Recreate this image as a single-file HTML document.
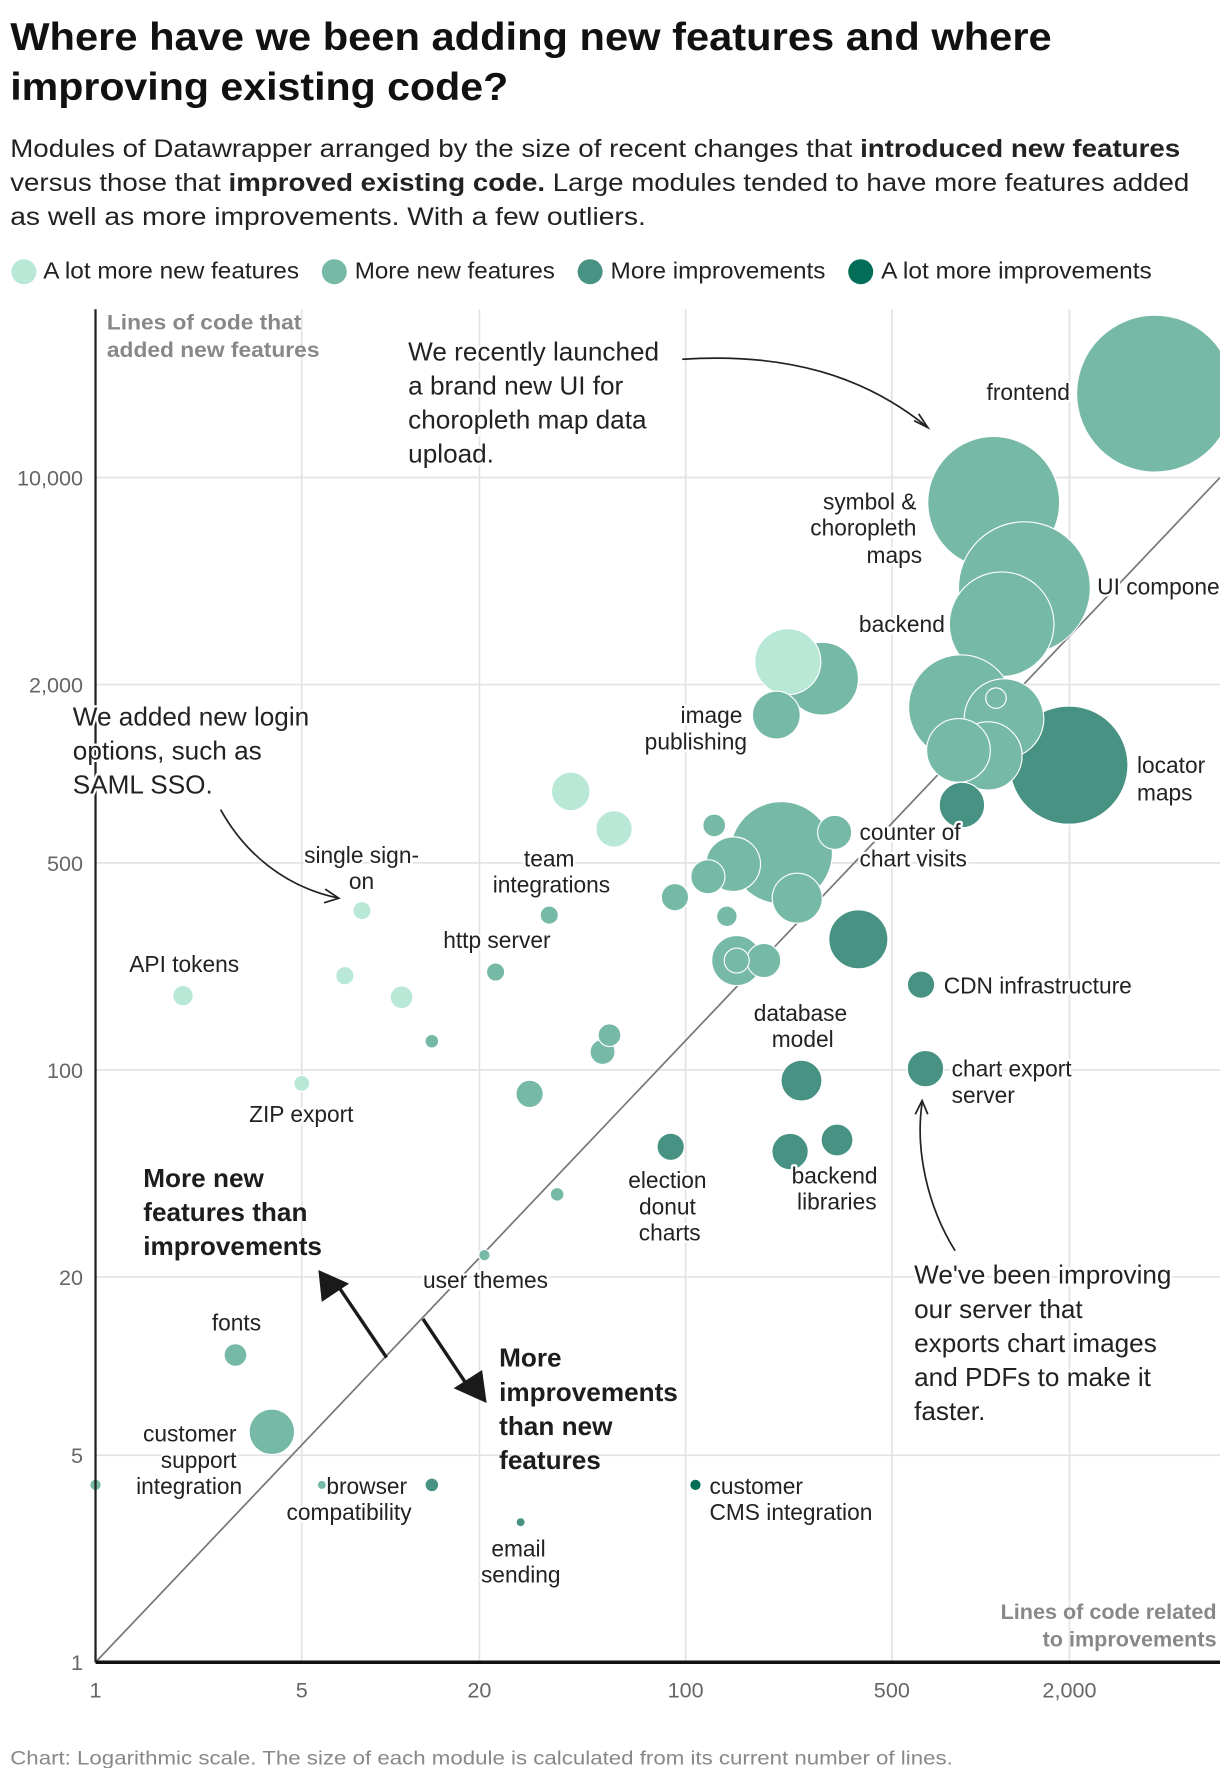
<!DOCTYPE html>
<html><head><meta charset="utf-8">
<style>
html,body{margin:0;padding:0;background:#fff;}
svg{display:block;font-family:"Liberation Sans",Arial,sans-serif;}
.lbl{font-size:20px;fill:#222;paint-order:stroke;stroke:#fff;stroke-width:4px;stroke-linejoin:round;}
.tick{font-size:19px;fill:#666;}
.ann{font-size:23px;fill:#222;paint-order:stroke;stroke:#fff;stroke-width:4px;}
.bold{font-size:23px;font-weight:bold;fill:#1d1d1d;}
</style></head>
<body>
<svg id="chart" width="1220" height="1768" viewBox="0 0 1073 1555" xmlns="http://www.w3.org/2000/svg">
<text x="9" y="44" font-size="34" font-weight="bold" fill="#111" textLength="916" lengthAdjust="spacingAndGlyphs">Where have we been adding new features and where</text>
<text x="9" y="88" font-size="34" font-weight="bold" fill="#111" textLength="438" lengthAdjust="spacingAndGlyphs">improving existing code?</text>
<g font-size="22" fill="#222">
<text x="9" y="138" textLength="1029" lengthAdjust="spacingAndGlyphs">Modules of Datawrapper arranged by the size of recent changes that <tspan font-weight="bold">introduced new features</tspan></text>
<text x="9" y="168" textLength="1037" lengthAdjust="spacingAndGlyphs">versus those that <tspan font-weight="bold">improved existing code.</tspan> Large modules tended to have more features added</text>
<text x="9" y="198" textLength="559" lengthAdjust="spacingAndGlyphs">as well as more improvements. With a few outliers.</text>
</g>
<g font-size="20" fill="#222">
<circle cx="21" cy="239" r="11" fill="#b9e8d7"/><text x="38" y="245" textLength="225" lengthAdjust="spacingAndGlyphs">A lot more new features</text>
<circle cx="294" cy="239" r="11" fill="#76b9a6"/><text x="312" y="245" textLength="176" lengthAdjust="spacingAndGlyphs">More new features</text>
<circle cx="519" cy="239" r="11" fill="#489283"/><text x="537" y="245" textLength="189" lengthAdjust="spacingAndGlyphs">More improvements</text>
<circle cx="757" cy="239" r="11" fill="#036e58"/><text x="775" y="245" textLength="238" lengthAdjust="spacingAndGlyphs">A lot more improvements</text>
</g>
<g id="grid"></g>
<line x1="84" y1="1462" x2="1073" y2="420" stroke="#777" stroke-width="1.5"/>
<g id="bubbles"></g>
<line x1="84" y1="272" x2="84" y2="1462" stroke="#222" stroke-width="2"/>
<line x1="84" y1="1462" x2="1073" y2="1462" stroke="#111" stroke-width="3"/>
<g id="ticks"></g>
<text x="94" y="290" font-size="19" font-weight="bold" fill="#888" textLength="171" lengthAdjust="spacingAndGlyphs">Lines of code that</text>
<text x="94" y="314" font-size="19" font-weight="bold" fill="#888" textLength="187" lengthAdjust="spacingAndGlyphs">added new features</text>
<text x="1070" y="1424" text-anchor="end" font-size="19" font-weight="bold" fill="#888">Lines of code related</text>
<text x="1070" y="1448" text-anchor="end" font-size="19" font-weight="bold" fill="#888">to improvements</text>

<g>
<text class="lbl" x="941" y="352" text-anchor="end">frontend</text>
<text class="lbl" x="806" y="448" text-anchor="end">symbol &amp;</text>
<text class="lbl" x="806" y="471" text-anchor="end">choropleth</text>
<text class="lbl" x="811" y="495" text-anchor="end">maps</text>
<text class="lbl" x="965" y="523">UI components</text>
<text class="lbl" x="831" y="556" text-anchor="end">backend</text>
<text class="lbl" x="1000" y="680">locator</text>
<text class="lbl" x="1000" y="704">maps</text>
<text class="lbl" x="653" y="636" text-anchor="end">image</text>
<text class="lbl" x="657" y="659" text-anchor="end">publishing</text>
<text class="lbl" x="756" y="739">counter of</text>
<text class="lbl" x="756" y="762">chart visits</text>
<text class="lbl" x="318" y="759" text-anchor="middle">single sign-</text>
<text class="lbl" x="318" y="782" text-anchor="middle">on</text>
<text class="lbl" x="483" y="762" text-anchor="middle">team</text>
<text class="lbl" x="485" y="785" text-anchor="middle">integrations</text>
<text class="lbl" x="437" y="834" text-anchor="middle">http server</text>
<text class="lbl" x="162" y="855" text-anchor="middle">API tokens</text>
<text class="lbl" x="830" y="874">CDN infrastructure</text>
<text class="lbl" x="704" y="898" text-anchor="middle">database</text>
<text class="lbl" x="706" y="921" text-anchor="middle">model</text>
<text class="lbl" x="837" y="947">chart export</text>
<text class="lbl" x="837" y="970">server</text>
<text class="lbl" x="265" y="987" text-anchor="middle">ZIP export</text>
<text class="lbl" x="587" y="1045" text-anchor="middle">election</text>
<text class="lbl" x="587" y="1068" text-anchor="middle">donut</text>
<text class="lbl" x="589" y="1091" text-anchor="middle">charts</text>
<text class="lbl" x="734" y="1041" text-anchor="middle">backend</text>
<text class="lbl" x="736" y="1064" text-anchor="middle">libraries</text>
<text class="lbl" x="427" y="1133" text-anchor="middle">user themes</text>
<text class="lbl" x="208" y="1170" text-anchor="middle">fonts</text>
<text class="lbl" x="208" y="1268" text-anchor="end">customer</text>
<text class="lbl" x="208" y="1291" text-anchor="end">support</text>
<text class="lbl" x="213" y="1314" text-anchor="end">integration</text>
<text class="lbl" x="287" y="1314">browser</text>
<text class="lbl" x="307" y="1337" text-anchor="middle">compatibility</text>
<text class="lbl" x="456" y="1369" text-anchor="middle">email</text>
<text class="lbl" x="458" y="1392" text-anchor="middle">sending</text>
<text class="lbl" x="624" y="1314">customer</text>
<text class="lbl" x="624" y="1337">CMS integration</text>
</g>

<g>
<text class="ann" x="359" y="317">We recently launched</text>
<text class="ann" x="359" y="347">a brand new UI for</text>
<text class="ann" x="359" y="377">choropleth map data</text>
<text class="ann" x="359" y="407">upload.</text>
<path d="M600 316 C690 310 760 330 816 376" fill="none" stroke="#222" stroke-width="1.5"/>
<path d="M804 370 L816 376 L808 364" fill="none" stroke="#222" stroke-width="1.5"/>
<text class="ann" x="64" y="638">We added new login</text>
<text class="ann" x="64" y="668">options, such as</text>
<text class="ann" x="64" y="698">SAML SSO.</text>
<path d="M194 712 C215 750 250 780 298 790" fill="none" stroke="#222" stroke-width="1.5"/>
<path d="M286 782 L298 790 L285 794" fill="none" stroke="#222" stroke-width="1.5"/>
<text class="ann" x="804" y="1129">We've been improving</text>
<text class="ann" x="804" y="1159">our server that</text>
<text class="ann" x="804" y="1189">exports chart images</text>
<text class="ann" x="804" y="1219">and PDFs to make it</text>
<text class="ann" x="804" y="1249">faster.</text>
<path d="M840 1100 C815 1060 805 1010 811 970" fill="none" stroke="#222" stroke-width="1.5"/>
<path d="M805 980 L811 968 L816 980" fill="none" stroke="#222" stroke-width="1.5"/>
<text class="bold" x="126" y="1044">More new</text>
<text class="bold" x="126" y="1074">features than</text>
<text class="bold" x="126" y="1104">improvements</text>
<text class="bold" x="439" y="1202">More</text>
<text class="bold" x="439" y="1232">improvements</text>
<text class="bold" x="439" y="1262">than new</text>
<text class="bold" x="439" y="1292">features</text>
<line x1="340" y1="1194" x2="298" y2="1132" stroke="#1a1a1a" stroke-width="3"/>
<polygon points="280,1117 307,1129 283,1145" fill="#1a1a1a"/>
<line x1="372" y1="1160" x2="412" y2="1220" stroke="#1a1a1a" stroke-width="3"/>
<polygon points="428,1234 399,1221 424,1205" fill="#1a1a1a"/>
</g>
<text x="9" y="1552" font-size="17" fill="#888" textLength="829" lengthAdjust="spacingAndGlyphs">Chart: Logarithmic scale. The size of each module is calculated from its current number of lines.</text>
</svg>
<script>
const improvements=[3900,1107,1407,1178,857,1200,1127,841,1059,1990,864,222,290,203,40.8,57.2,125,320,211,145,119,239,92,138,34.5,8.0,385,149,149,184,22.7,7.0,10.9,1.98,628,13.8,55.2,52.3,5.0,650,247,29.6,89,326,226,36.7,20.8,2.98,3.96,1,5.85,13.8,27.6,108];
const features=[19200,8240,4244,3197,1678,1535,1800,1199,1148,1069,784,2389,2093,1577,872,651,669,634,541,495,449,380,383,330,333,345,276,234,234,234,214,208,176,178,194,125,131,115,90,101,92,83,55,58,53,38,23.7,10.9,6.0,3.97,3.97,3.97,2.97,3.97];
const moduleLines=[47610,33640,33640,21160,21160,12250,810,7840,9000,27040,4000,8410,10240,4410,2890,2560,1000,2250,20250,5760,2250,4840,1440,810,640,640,6760,4840,1210,2250,640,640,1000,810,1440,360,1000,1210,490,2560,3240,1440,1440,1960,2560,360,250,1000,4000,250,160,360,160,250];
const category=[1,1,1,1,1,1,1,1,1,2,2,0,1,1,0,0,1,1,1,1,1,1,1,1,1,0,2,1,1,1,1,0,0,0,2,1,1,1,0,2,2,1,2,2,2,1,1,1,1,1,1,2,2,3];
const xTicks=[1,5,20,100,500,2000];
const yTicks=[1,5,20,100,500,2000,10000];
const yTickLabels=["1","5","20","100","500","2,000","10,000"];
const xTickLabels=["1","5","20","100","500","2,000"];
const colors=["#b9e8d7","#76b9a6","#489283","#036e58"];
const NS="http://www.w3.org/2000/svg";
function px(v){return 84+259.5*Math.log10(v);}
function py(v){return 1462-260.5*Math.log10(v);}
const grid=document.getElementById('grid'),ticks=document.getElementById('ticks'),bub=document.getElementById('bubbles');
yTicks.forEach((t,i)=>{
 const l=document.createElementNS(NS,'line');
 
 
 l.setAttribute('x1',84);l.setAttribute('x2',1073);l.setAttribute('y1',py(t));l.setAttribute('y2',py(t));
 l.setAttribute('stroke','#e3e3e3');l.setAttribute('stroke-width','1.5');grid.appendChild(l);
 const tx=document.createElementNS(NS,'text');
 
 
 tx.setAttribute('x',73);tx.setAttribute('y',py(t)+7);tx.setAttribute('text-anchor','end');tx.setAttribute('class','tick');
 tx.textContent=yTickLabels[i];ticks.appendChild(tx);
});
xTicks.forEach((t,i)=>{
 if(t>1){const l=document.createElementNS(NS,'line');
 
 
 l.setAttribute('x1',px(t));l.setAttribute('x2',px(t));l.setAttribute('y1',272);l.setAttribute('y2',1462);
 l.setAttribute('stroke','#e3e3e3');l.setAttribute('stroke-width','1.5');grid.appendChild(l);}
 const tx=document.createElementNS(NS,'text');
 
 
 tx.setAttribute('x',px(t));tx.setAttribute('y',1493);tx.setAttribute('text-anchor','middle');tx.setAttribute('class','tick');
 tx.textContent=xTickLabels[i];ticks.appendChild(tx);
});
const cp=document.createElementNS(NS,'clipPath');cp.setAttribute('id','plotclip');
const cr=document.createElementNS(NS,'rect');cr.setAttribute('x',0);cr.setAttribute('y',260);cr.setAttribute('width',1073);cr.setAttribute('height',1210);
cp.appendChild(cr);document.getElementById('chart').appendChild(cp);
bub.setAttribute('clip-path','url(#plotclip)');
const order=improvements.map((_,i)=>i).sort((a,b)=>moduleLines[b]-moduleLines[a]);
order.forEach(i=>{
 const c=document.createElementNS(NS,'circle');
 
 
 c.setAttribute('cx',px(improvements[i]));c.setAttribute('cy',py(features[i]));
 c.setAttribute('r',Math.sqrt(moduleLines[i]/10));
 c.setAttribute('fill',colors[category[i]]);c.setAttribute('stroke','#fff');c.setAttribute('stroke-width','1');
 bub.appendChild(c);
});
</script>
</body></html>
